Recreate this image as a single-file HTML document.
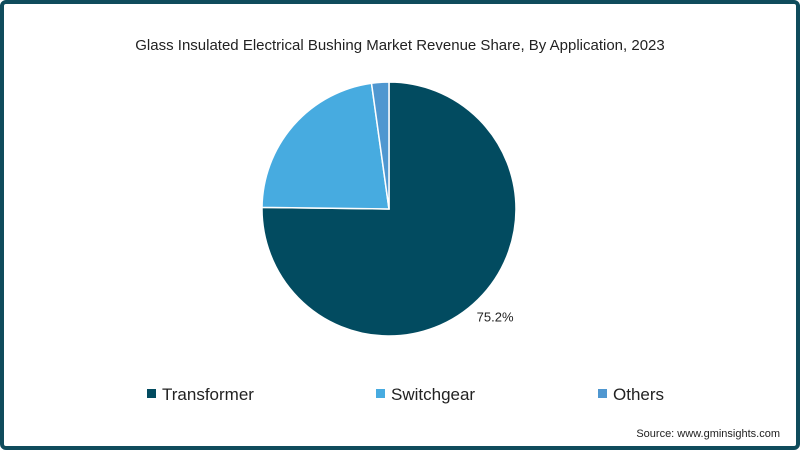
<!DOCTYPE html>
<html><head><meta charset="utf-8"><style>
body{margin:0;width:800px;height:450px;overflow:hidden;background:#fff;font-family:"Liberation Sans",sans-serif}
#frame{position:absolute;left:0;top:0;width:792px;height:442px;border:4px solid #0f4c5c;border-radius:6px;background:#fff}
</style></head><body>
<div id="frame"></div>
<svg width="800" height="450" style="position:absolute;left:0;top:0">
<text x="400" y="50" text-anchor="middle" font-size="15" fill="#222">Glass Insulated Electrical Bushing Market Revenue Share, By Application, 2023</text>
<g id="pie"></g>
<g id="legend"></g>
<text x="780" y="437" text-anchor="end" font-size="11" fill="#222">Source: www.gminsights.com</text>
</svg>
<script>
const categories=["Transformer","Switchgear","Others"];
const values=[75.2,22.6,2.2];
const labels=["75.2%","",""];
const colors=["#024b60","#47abe0","#4f97d0"];
const cx=389,cy=209,r=127;
const pie=document.getElementById('pie');
const NS="http://www.w3.org/2000/svg";
const total=values.reduce((a,b)=>a+b,0);
let a0=0;
values.forEach((v,i)=>{
  const a1=a0+v/total*2*Math.PI;
  const x0=cx+r*Math.sin(a0),y0=cy-r*Math.cos(a0),x1=cx+r*Math.sin(a1),y1=cy-r*Math.cos(a1);
  const p=document.createElementNS(NS,'path');
  p.setAttribute('d',`M${cx},${cy}L${x0},${y0}A${r},${r} 0 ${a1-a0>Math.PI?1:0} 1 ${x1},${y1}Z`);
  p.setAttribute('fill',colors[i]);p.setAttribute('stroke','#fff');p.setAttribute('stroke-width','1.5');
  
  
  pie.appendChild(p);
  if(labels[i]){
    const am=(a0+a1)/2;
    const t=document.createElementNS(NS,'text');
    t.setAttribute('x',cx+(r+24)*Math.sin(am));t.setAttribute('y',cy-(r+24)*Math.cos(am)+5);
    t.setAttribute('font-size','13');t.setAttribute('fill','#222');t.setAttribute('text-anchor','middle');
    t.textContent=labels[i];
    
    
    pie.appendChild(t);
  }
  a0=a1;
});
const lg=document.getElementById('legend');
const lx=[147,376,598];
categories.forEach((c,i)=>{
  const g=document.createElementNS(NS,'g');
  
  
  const s=document.createElementNS(NS,'rect');
  s.setAttribute('x',lx[i]);s.setAttribute('y',389);s.setAttribute('width',9);s.setAttribute('height',9);s.setAttribute('fill',colors[i]);
  const t=document.createElementNS(NS,'text');
  t.setAttribute('x',lx[i]+15);t.setAttribute('y',400);t.setAttribute('font-size','17');t.setAttribute('fill','#222');
  t.textContent=c;
  g.appendChild(s);g.appendChild(t);lg.appendChild(g);
});
</script>
</body></html>
